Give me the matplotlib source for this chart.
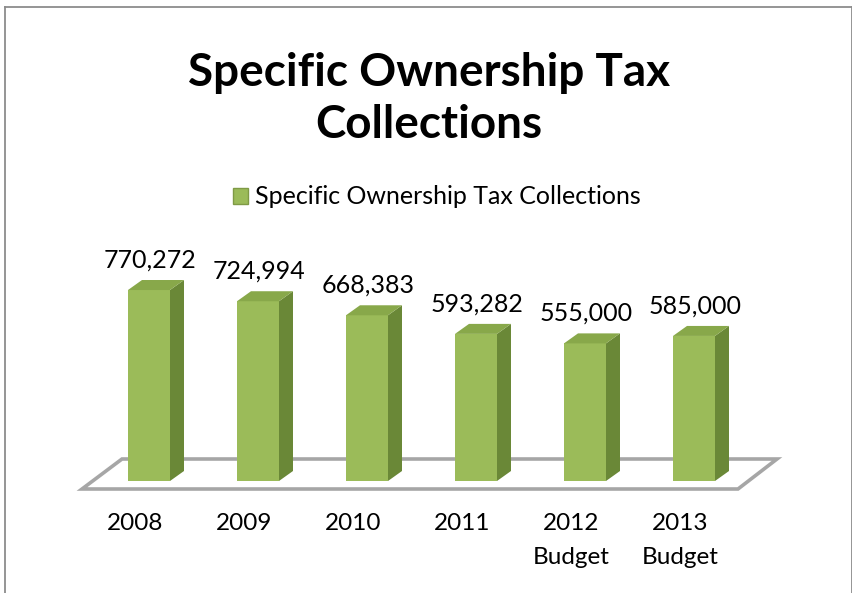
import matplotlib.pyplot as plt
from matplotlib.patches import Polygon, Patch
from matplotlib.lines import Line2D

years = ["2008", "2009", "2010", "2011", "2012", "2013"]
sublabels = ["", "", "", "", "Budget", "Budget"]
collections = [770272, 724994, 668383, 593282, 555000, 585000]
series_name = "Specific Ownership Tax Collections"
title = "Specific Ownership Tax\nCollections"

FRONT = "#9BBB59"
SIDE = "#6A8837"
TOP = "#88A84A"
FLOOR_EDGE = "#A6A6A6"

W, H = 853, 593
fig = plt.figure(figsize=(W / 100, H / 100), dpi=100)
ax = fig.add_axes([0, 0, 1, 1])

# one value unit per pixel, and one category slot per 109 px
vpp = 4033.0
slot = 109.0
x0, y0 = 149.0, 481.0
ax.set_xlim(-x0 / slot, (W - x0) / slot)
ax.set_ylim(-(H - y0) * vpp, y0 * vpp)
ax.axis("off")

width = 42 / slot
dx, dy = 14 / slot, 10 * vpp
label_shift = -14 / slot  # category labels sit left of the bars (perspective)

# floor
floor = Polygon([(-67 / slot, -8 * vpp), (589 / slot, -8 * vpp),
                 (628 / slot, 22 * vpp), (-27 / slot, 22 * vpp)],
                closed=True, facecolor="white", edgecolor=FLOOR_EDGE,
                linewidth=2.6, zorder=1)
ax.add_patch(floor)

for i, v in enumerate(collections):
    l, r = i - width / 2, i + width / 2
    ax.bar(i, v, width=width, color=FRONT, linewidth=0, zorder=3)
    ax.add_patch(Polygon([(r, 0), (r + dx, dy), (r + dx, v + dy), (r, v)],
                         closed=True, facecolor=SIDE, linewidth=0, zorder=3))
    ax.add_patch(Polygon([(l, v), (r, v), (r + dx, v + dy), (l + dx, v + dy)],
                         closed=True, facecolor=TOP, linewidth=0, zorder=3))
    ax.text(i + 0.01, v + dy + 20 * vpp, f"{v:,}", ha="center", va="center",
            fontsize=18, family="Lato", color="black")
    ax.text(i + label_shift, -42 * vpp, years[i], ha="center", va="center",
            fontsize=17.5, family="Lato", color="black")
    if sublabels[i]:
        ax.text(i + label_shift, -77 * vpp, sublabels[i], ha="center",
                va="center", fontsize=17.5, family="Lato", color="black")

fig.text(429 / W, 1 - 99 / H, title, ha="center", va="center",
         fontsize=33, family="Lato", fontweight="bold", linespacing=1.3)

fig.legend(handles=[Patch(facecolor=FRONT, edgecolor="#7F9A45", label=series_name)],
           loc="center", bbox_to_anchor=(437 / W, 1 - 197 / H), frameon=False,
           prop={"family": "Lato", "size": 18}, handlelength=0.6,
           handleheight=0.6, handletextpad=0.3)

# chart area border
border = dict(color="#8C8C8C", linewidth=1.3)
fig.add_artist(Line2D([5 / W, 852 / W], [1 - 7 / H, 1 - 7 / H], **border))
fig.add_artist(Line2D([5 / W, 5 / W], [0, 1 - 7 / H], **border))
fig.add_artist(Line2D([852 / W, 852 / W], [0, 1 - 7 / H], **border))

fig.savefig("out.png", dpi=100, facecolor="white")
